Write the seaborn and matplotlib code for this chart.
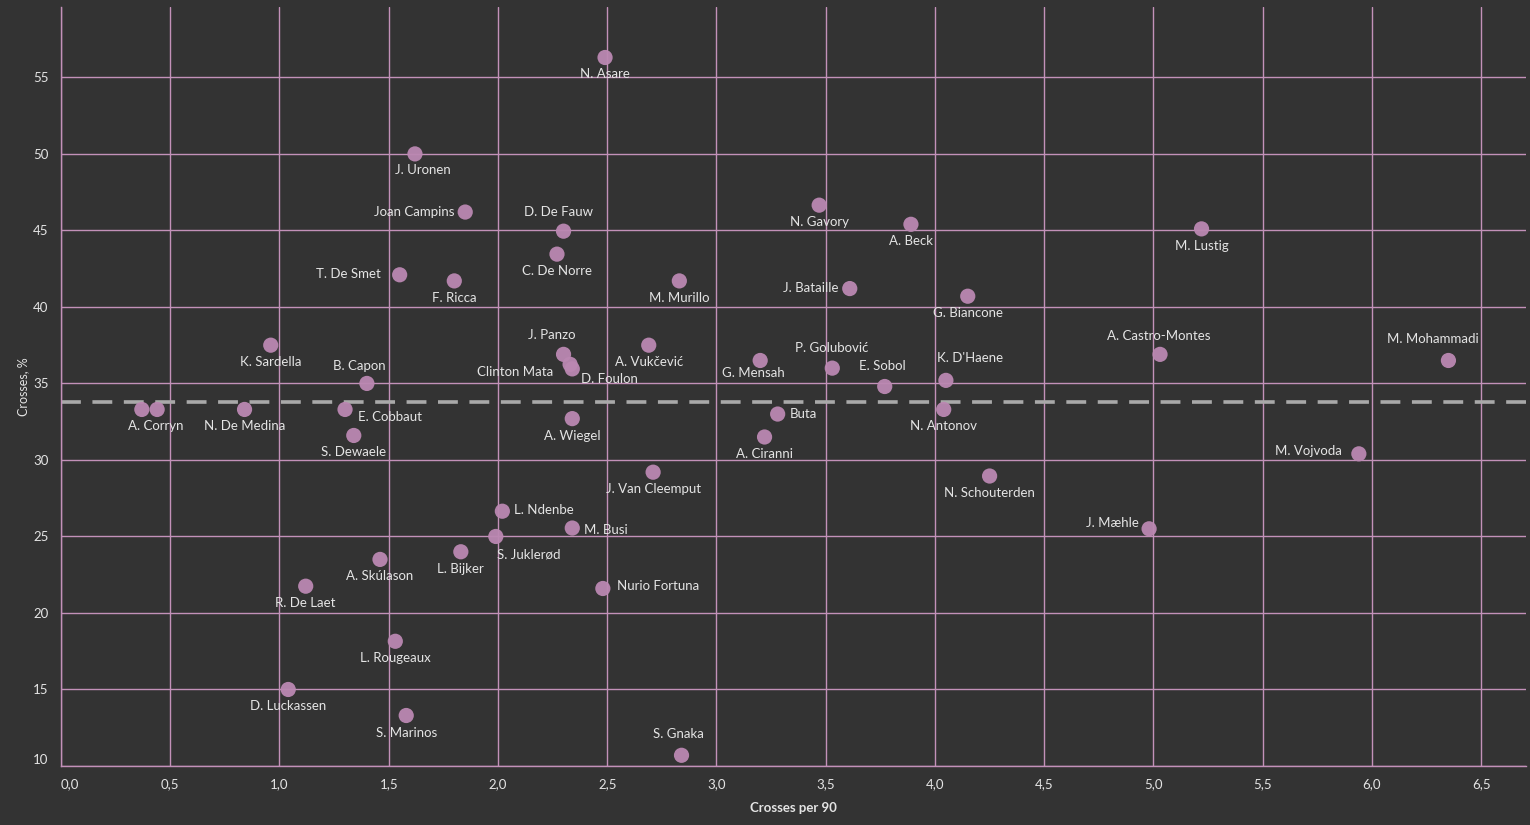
#!/usr/bin/env python
# -*- coding: utf-8 -*-
"""Crosses per 90 vs cross accuracy scatter, dark theme."""

import pandas as pd
import matplotlib
matplotlib.use("Agg")
import matplotlib.pyplot as plt
from matplotlib.ticker import FuncFormatter
import seaborn as sns

# ---------------------------------------------------------------------------
# Data
# ---------------------------------------------------------------------------
players = [
    "N. Asare", "J. Uronen", "Joan Campins", "D. De Fauw", "C. De Norre",
    "T. De Smet", "F. Ricca", "M. Murillo", "N. Gavory", "A. Beck",
    "M. Lustig", "J. Bataille", "G. Biancone", "A. Castro-Montes", "M. Mohammadi",
    "K. Sardella", "B. Capon", "J. Panzo", "Clinton Mata", "D. Foulon",
    "A. Vukčević", "G. Mensah", "P. Golubović", "E. Sobol", "K. D'Haene",
    "N. Antonov", "Buta", "A. Ciranni", "", "A. Corryn",
    "N. De Medina", "E. Cobbaut", "S. Dewaele", "A. Wiegel", "J. Van Cleemput",
    "M. Vojvoda", "N. Schouterden", "J. Mæhle", "L. Ndenbe", "M. Busi",
    "S. Juklerød", "L. Bijker", "A. Skúlason", "R. De Laet", "Nurio Fortuna",
    "L. Rougeaux", "D. Luckassen", "S. Marinos", "S. Gnaka",
]
crosses_per_90 = [
    2.49, 1.62, 1.85, 2.30, 2.27,
    1.55, 1.80, 2.83, 3.47, 3.89,
    5.22, 3.61, 4.15, 5.03, 6.35,
    0.96, 1.40, 2.30, 2.33, 2.34,
    2.69, 3.20, 3.53, 3.77, 4.05,
    4.04, 3.28, 3.22, 0.37, 0.44,
    0.84, 1.30, 1.34, 2.34, 2.71,
    5.94, 4.25, 4.98, 2.02, 2.34,
    1.99, 1.83, 1.46, 1.12, 2.48,
    1.53, 1.04, 1.58, 2.84,
]
cross_accuracy = [
    56.3, 50.0, 46.2, 44.95, 43.45,
    42.1, 41.7, 41.7, 46.65, 45.4,
    45.1, 41.2, 40.7, 36.9, 36.5,
    37.5, 35.0, 36.9, 36.25, 35.95,
    37.5, 36.5, 36.0, 34.8, 35.2,
    33.3, 33.0, 31.5, 33.3, 33.3,
    33.3, 33.3, 31.6, 32.7, 29.2,
    30.4, 28.95, 25.5, 26.65, 25.55,
    25.0, 24.0, 23.5, 21.75, 21.6,
    18.15, 15.0, 13.3, 10.7,
]
average_accuracy = 33.8
x_ticks = [0.0, 0.5, 1.0, 1.5, 2.0, 2.5, 3.0, 3.5, 4.0, 4.5, 5.0, 5.5, 6.0, 6.5]
y_ticks = [10, 15, 20, 25, 30, 35, 40, 45, 50, 55]

# ---------------------------------------------------------------------------
# Label placement (pixel offsets of the label from its dot, + is up)
# ---------------------------------------------------------------------------
BELOW = (0, -17, "center")
LABEL_PLACE = {
    "J. Uronen": (8, -16, "center"),
    "Joan Campins": (-11, 0, "right"),
    "D. De Fauw": (-5, 19, "center"),
    "T. De Smet": (-19, 1, "right"),
    "J. Bataille": (-11, 1, "right"),
    "A. Castro-Montes": (-1, 18, "center"),
    "M. Mohammadi": (-16, 21, "center"),
    "B. Capon": (-8, 17, "center"),
    "J. Panzo": (-12, 19, "center"),
    "Clinton Mata": (-17, -8, "right"),
    "D. Foulon": (9, -10, "left"),
    "G. Mensah": (-7, -13, "center"),
    "P. Golubović": (-1, 20, "center"),
    "E. Sobol": (-2, 20, "center"),
    "K. D'Haene": (24, 22, "center"),
    "Buta": (12, 0, "left"),
    "A. Corryn": (-1, -17, "center"),
    "E. Cobbaut": (13, -8, "left"),
    "M. Vojvoda": (-17, 3, "right"),
    "J. Mæhle": (-10, 6, "right"),
    "L. Ndenbe": (12, 1, "left"),
    "M. Busi": (12, -2, "left"),
    "S. Juklerød": (1, -18, "left"),
    "Nurio Fortuna": (14, 2, "left"),
    "S. Gnaka": (-3, 21, "center"),
}

BG = "#333333"
PINK = "#c391b9"
DOT = "#bb88b2"
TEXT = "#e4e4e4"

sns.set_style("dark")
plt.rcParams["font.family"] = ["Lato", "DejaVu Sans"]

df = pd.DataFrame({"player": players, "x": crosses_per_90, "y": cross_accuracy})

fig = plt.figure(figsize=(15.3, 8.25), dpi=100, facecolor=BG)
ax = fig.add_axes([61 / 1530, 1 - 766 / 825, (1526 - 61) / 1530, (766 - 7) / 825])
ax.set_facecolor(BG)

ax.set_xlim(0, 6.705)
ax.set_ylim(10, 59.6)

ax.set_xticks(x_ticks)
ax.set_yticks(y_ticks)
ax.xaxis.set_major_formatter(FuncFormatter(lambda v, _: f"{v:.1f}".replace(".", ",")))
ax.grid(True, color=PINK, linewidth=1.0, zorder=0)
ax.set_axisbelow(True)

for side in ("top", "right"):
    ax.spines[side].set_visible(False)
for side in ("left", "bottom"):
    ax.spines[side].set_color(PINK)
    ax.spines[side].set_linewidth(1.0)

ax.tick_params(axis="both", length=5, width=1, color=PINK, labelcolor=TEXT,
               labelsize=9.5, pad=4)

# average line
ax.axhline(average_accuracy, color="#a9a9a9", linewidth=2.6,
           linestyle=(0, (5.5, 3.2)), zorder=2)

sns.scatterplot(data=df, x="x", y="y", ax=ax, s=120, color=DOT,
                edgecolor="none", alpha=0.95, zorder=3, legend=False)

for _, row in df.iterrows():
    if not row["player"]:
        continue
    dx, dy, ha = LABEL_PLACE.get(row["player"], BELOW)
    ax.annotate(row["player"], (row["x"], row["y"]), xytext=(dx, dy),
                textcoords="offset pixels", ha=ha, va="center",
                fontsize=9.5, color=TEXT, zorder=4)

# keep edge tick labels inside the frame, like the original
for lab in ax.get_yticklabels():
    if lab.get_text() == "10":
        lab.set_va("bottom")
xlabels = ax.get_xticklabels()
xlabels[0].set_ha("left")

ax.set_xlabel("Crosses per 90", color=TEXT, fontsize=9.5, fontweight="bold",
              labelpad=8)
ax.set_ylabel("Crosses, %", color=TEXT, fontsize=9, labelpad=3)

fig.savefig("out.png", facecolor=BG)
